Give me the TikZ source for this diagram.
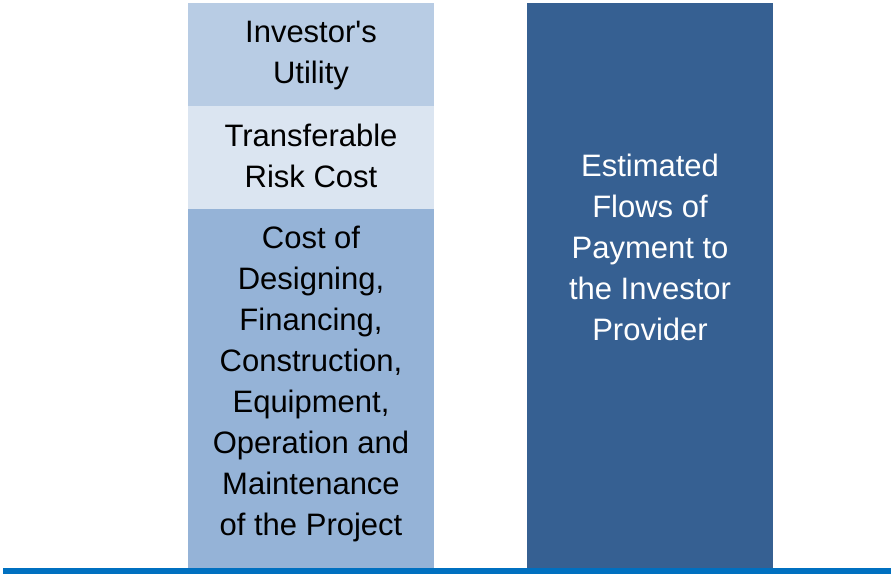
\documentclass[tikz,border=0pt]{standalone}
\usepackage{fontspec}
\setmainfont{Liberation Sans}
\newcommand{\straightquote}{\XeTeXglyph\XeTeXcharglyph"27\relax}
\definecolor{boxa}{HTML}{B8CCE4}
\definecolor{boxb}{HTML}{DBE5F1}
\definecolor{boxc}{HTML}{95B3D7}
\definecolor{boxd}{HTML}{366092}
\definecolor{baseblue}{HTML}{0070C0}
\tikzset{
  lbl/.style={align=center, font=\fontsize{31}{41}\selectfont, inner sep=0pt},
}
\begin{document}
\begin{tikzpicture}[x=1pt,y=-1pt]
\useasboundingbox (0,0) rectangle (891,574);
\fill[boxa] (188,3) rectangle (434,106);
\fill[boxb] (188,106) rectangle (434,209);
\fill[boxc] (188,209) rectangle (434,568);
\fill[boxd] (527,3) rectangle (773,568);
\fill[baseblue] (3,568) rectangle (891,574);
\node[lbl] (util) at (311,56) {Investor\straightquote s\\Utility};
\node[lbl] (risk) at (311,155.5) {Transferable\\Risk Cost};
\node[lbl] (cost) at (311,383.5) {Cost of\\Designing,\\Financing,\\Construction,\\Equipment,\\Operation and\\Maintenance\\of the Project};
\node[lbl, text=white] (pay) at (650,247.5) {Estimated\\Flows of\\Payment to\\the Investor\\Provider};
\end{tikzpicture}
\end{document}
